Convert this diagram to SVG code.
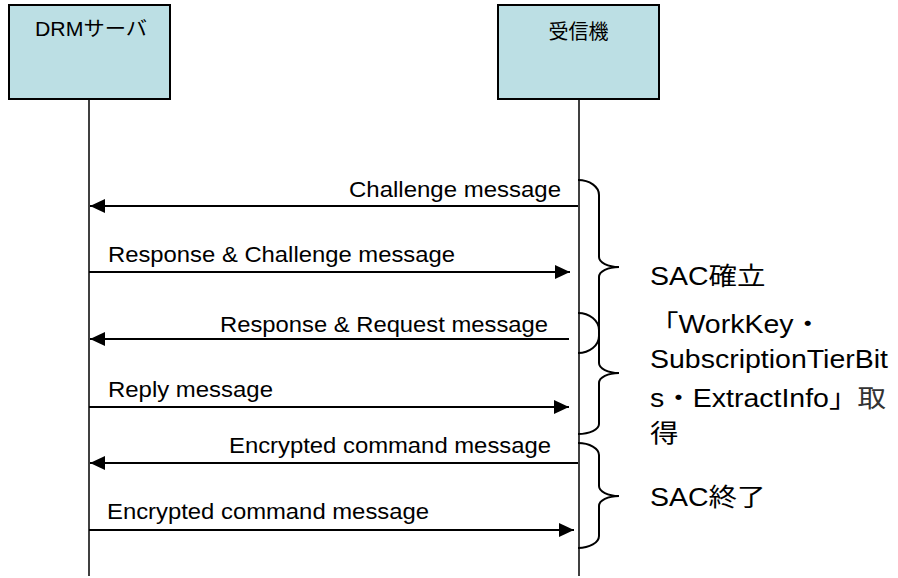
<svg xmlns="http://www.w3.org/2000/svg" width="898" height="578" viewBox="0 0 898 578">
<style>
.box{fill:#BCDFE4;stroke:#000;stroke-width:2}
.life{stroke:#000;stroke-width:1.5;fill:none}
.msg{stroke:#000;stroke-width:2;fill:none;marker-end:url(#ah)}
.brace{stroke:#000;stroke-width:2;fill:none}
text{font-family:"Liberation Sans","Noto Sans CJK JP",sans-serif;fill:#000}
.lbl{font-size:22px}
.hdr{font-size:20px}
.side{font-size:25px}
</style>
<defs>
<marker id="ah" viewBox="0 0 15 14" refX="15" refY="7" markerWidth="15" markerHeight="14" orient="auto" markerUnits="userSpaceOnUse">
<path d="M0,0 L15,7 L0,14 z" fill="#000"/>
</marker>
</defs>
<g id="node-drm">
<rect class="box" x="9" y="5" width="161" height="94"/>
<text class="hdr" x="35" y="36" textLength="112" lengthAdjust="spacingAndGlyphs">DRMサーバ</text>
<line class="life" x1="89" y1="99" x2="89" y2="576"/>
</g>
<g id="node-receiver">
<rect class="box" x="498" y="5" width="161" height="94"/>
<text class="hdr" x="578.5" y="39" text-anchor="middle">受信機</text>
<line class="life" x1="579" y1="99" x2="579" y2="576"/>
</g>
<g id="connectors">
<line class="msg" x1="578" y1="206" x2="90" y2="206"/>
<line class="msg" x1="89" y1="272" x2="570" y2="272"/>
<line class="msg" x1="569" y1="339" x2="90" y2="339"/>
<line class="msg" x1="89" y1="407" x2="569" y2="407"/>
<line class="msg" x1="578" y1="463" x2="90" y2="463"/>
<line class="msg" x1="89" y1="530" x2="574" y2="530"/>
</g>
<g id="labels">
<text class="lbl" x="349" y="197" textLength="212" lengthAdjust="spacingAndGlyphs">Challenge message</text>
<text class="lbl" x="108" y="262" textLength="347" lengthAdjust="spacingAndGlyphs">Response &amp; Challenge message</text>
<text class="lbl" x="220" y="332" textLength="328" lengthAdjust="spacingAndGlyphs">Response &amp; Request message</text>
<text class="lbl" x="108" y="397" textLength="165" lengthAdjust="spacingAndGlyphs">Reply message</text>
<text class="lbl" x="229" y="453" textLength="322" lengthAdjust="spacingAndGlyphs">Encrypted command message</text>
<text class="lbl" x="107" y="519" textLength="322" lengthAdjust="spacingAndGlyphs">Encrypted command message</text>
</g>
<g id="braces">
<path class="brace" d="M578,180 A21,15 0 0 1 599,195 L599,257 A20,10 0 0 0 619,267 A20,10 0 0 0 599,277 L599,336 A21,17 0 0 1 578,353"/>
<path class="brace" d="M578,313 A21,17 0 0 1 599,330 L599,363 A20,10 0 0 0 619,373 A20,10 0 0 0 599,383 L599,424 A21,10 0 0 1 578,434"/>
<path class="brace" d="M578,443 A21,12 0 0 1 599,455 L599,486 A20,10 0 0 0 619,496 A20,10 0 0 0 599,506 L599,536 A21,12 0 0 1 578,548"/>
</g>
<g id="side-notes" transform="translate(650,0) scale(1.14,1)">
<text class="side" x="0" y="285">SAC確立</text>
<text class="side" x="0" y="333">「WorkKey・</text>
<text class="side" x="0" y="368">SubscriptionTierBit</text>
<text class="side" x="0" y="407">s・ExtractInfo」<tspan fill="#333">取</tspan></text>
<text class="side" x="0" y="442" fill="#333">得</text>
<text class="side" x="0" y="506">SAC終了</text>
</g>
</svg>
